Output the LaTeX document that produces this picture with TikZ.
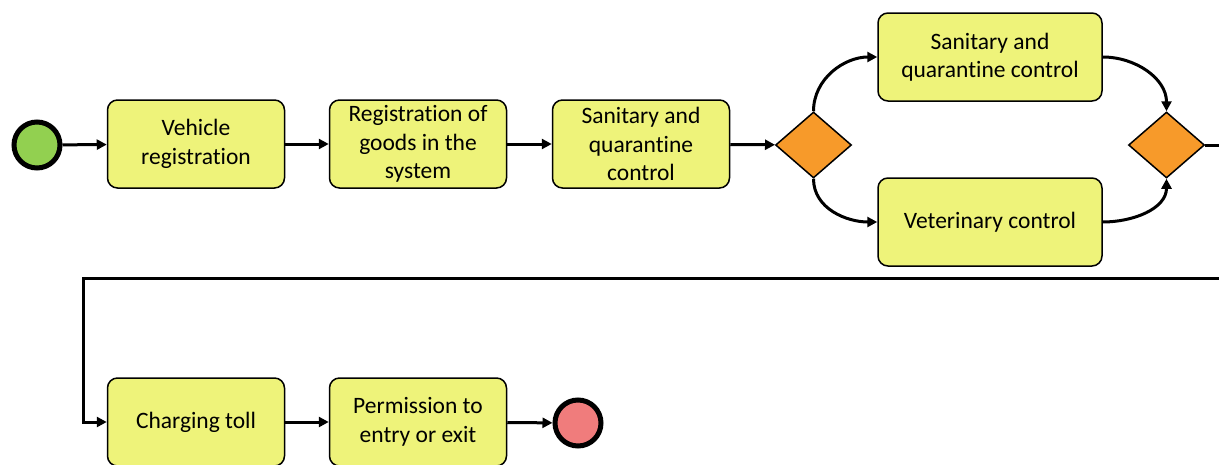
\documentclass[tikz,border=0pt]{standalone}
\usepackage{fontspec}
\setmainfont[Ligatures={NoCommon}]{Carlito}
\usetikzlibrary{shapes.geometric,arrows.meta}
\definecolor{taskfill}{RGB}{238,243,122}
\definecolor{gatefill}{RGB}{247,154,42}
\definecolor{startfill}{RGB}{146,208,80}
\definecolor{endfill}{RGB}{240,124,124}
\tikzset{
  task/.style={draw,line width=1.5pt,rounded corners=10pt,fill=taskfill,
    minimum width=177pt,minimum height=88pt,inner sep=1pt,align=center,
    font=\fontsize{23.5}{28.5}\selectfont},
  gate/.style={draw,diamond,line width=1.5pt,fill=gatefill,inner sep=0pt,
    minimum width=76pt,minimum height=66pt},
  event/.style={draw,circle,line width=5pt,minimum size=46pt,inner sep=0pt},
  flow/.style={line width=3pt,-{Triangle[length=10pt,width=10pt]}}
}
\begin{document}
\begin{tikzpicture}[x=1pt,y=-1pt]
  \useasboundingbox (0,0) rectangle (1219,464);
  % events, tasks and gateways
  \node[event,fill=startfill] (start) at (37,145) {};
  \node[task] (vehicle) at (196,144) {Vehicle\\registration};
  \node[task] (goods) at (418,144) {Registration of\\goods in the\\system};
  \node[task] (sanitary) at (641,144) {Sanitary and\\quarantine\\control};
  \node[gate] (split) at (813.5,145) {};
  \node[task,minimum width=224pt] (sanitarytwo) at (990,57) {Sanitary and\\quarantine control};
  \node[task,minimum width=224pt] (vet) at (990,222) {Veterinary control};
  \node[gate] (join) at (1166.5,145) {};
  \node[task] (toll) at (196,422) {Charging toll};
  \node[task] (permit) at (418,422) {Permission to\\entry or exit};
  \node[event,fill=endfill] (finish) at (578,423) {};
  \coordinate (backR) at (1228,278);
  \coordinate (backL) at (83,278);
  % flows
  \draw[flow] (start) -- (vehicle);
  \draw[flow] (vehicle) -- (goods);
  \draw[flow] (goods) -- (sanitary);
  \draw[flow] (sanitary) -- (split);
  \draw[flow] (split.north) to[out=90,in=180] (sanitarytwo.west);
  \draw[flow] (split.south) to[out=-90,in=180] (vet.west);
  \draw[flow] (sanitarytwo.east) to[out=0,in=90] (join.north);
  \draw[flow] (vet.east) to[out=0,in=-90] (join.south);
  \draw[flow] (join.east) -| (backR) -- (backL) |- (toll.west);
  \draw[flow] (toll) -- (permit);
  \draw[flow] (permit) -- (finish);
\end{tikzpicture}
\end{document}
